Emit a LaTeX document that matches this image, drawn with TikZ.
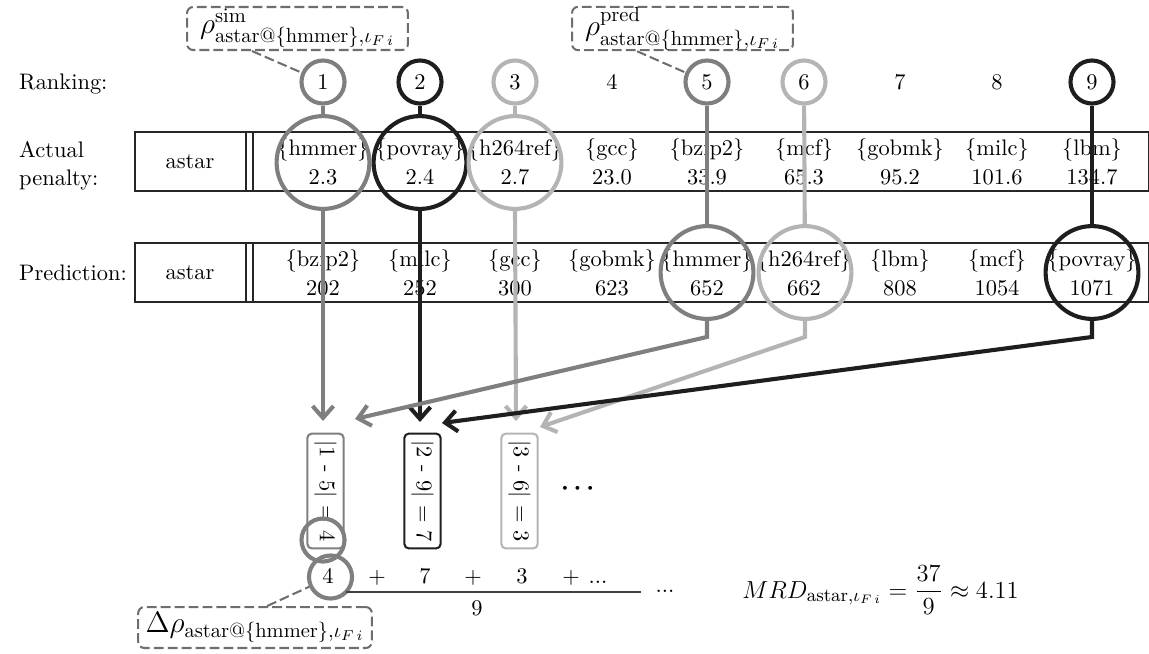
\documentclass[tikz,border=0pt]{standalone}
\usepackage{amsmath}
\usetikzlibrary{arrows.meta,calc}
\definecolor{midg}{HTML}{7F7F7F}
\definecolor{darkg}{HTML}{1E1E1E}
\definecolor{lightg}{HTML}{B4B4B4}
\definecolor{dashg}{HTML}{6E6E6E}
\begin{document}
\begin{tikzpicture}[x=0.488pt,y=-0.488pt,
  every node/.append style={font=\fontsize{10.95}{13.6}\selectfont},
  rank/.style={circle,minimum size=21pt,inner sep=0pt,line width=2pt},
  big/.style={circle,minimum size=45.3pt,inner sep=0pt,line width=2pt,draw=#1},
  txt/.style={anchor=base,inner sep=0pt},
  tbl/.style={line width=0.5pt,draw=black!85},
  link/.style={line width=2pt,draw=#1},
  arr/.style={line width=2pt,draw=#1,-{Straight Barb[length=5.8pt,width=10.2pt]}},
  diffbox/.style={draw=#1,rounded corners=2pt,line width=1pt,rotate=-90},
  callout/.style={draw=dashg,line width=1pt,dash pattern=on 4.8pt off 2pt,
    rounded corners=3pt,inner sep=0pt,font=\Large},
  leader/.style={draw=dashg,line width=1pt,dash pattern=on 4.8pt off 2pt},
  ring/.style={circle,minimum size=21pt,inner sep=0pt,line width=2pt,draw=midg}
]
\useasboundingbox (0,0) rectangle (1149,653);

% row labels
\node[anchor=west] (lrank) at (12,84) {Ranking:};
\node[anchor=west,align=left] (lact) at (12,166) {Actual\\penalty:};
\node[anchor=west] (lpred) at (12,273) {Prediction:};

% tables
\draw[tbl] (135,132) rectangle (1148,191);
\draw[tbl] (246,132) -- (246,191) (253,132) -- (253,191);
\draw[tbl] (135,243) rectangle (1148,302);
\draw[tbl] (246,243) -- (246,302) (253,243) -- (253,302);
\node (t1) at (190,162) {astar};
\node (t2) at (190,273) {astar};

\foreach \x/\n/\v [count=\k] in {323/hmmer/2.3,420/povray/2.4,515/h264ref/2.7,
    612/gcc/23.0,707/bzip2/33.9,804/mcf/65.3,900/gobmk/95.2,997/milc/101.6,1092/lbm/134.7}{
  \node[txt] (an\k) at (\x,155) {\{\n\}};
  \node[txt] (av\k) at (\x,184) {\v};
}
\foreach \x/\n/\v [count=\k] in {323/bzip2/202,420/milc/252,515/gcc/300,
    612/gobmk/623,707/hmmer/652,804/h264ref/662,900/lbm/808,997/mcf/1054,1092/povray/1071}{
  \node[txt] (pn\k) at (\x,266) {\{\n\}};
  \node[txt] (pv\k) at (\x,295) {\v};
}

% ranking
\foreach \i/\x/\c in {1/323/midg,2/420/darkg,3/515/lightg,4/612/none,5/707/midg,
    6/804/lightg,7/900/none,8/997/none,9/1092/darkg}{
  \node[rank,draw=\c] (r\i) at (\x,82) {\i};
}

% highlighted cells
\node[big=midg]   (b1) at (323,162.5) {};
\node[big=darkg]  (b2) at (420,162.5) {};
\node[big=lightg] (b3) at (515,162.5) {};
\node[big=midg]   (p5) at (707,272.5) {};
\node[big=lightg] (p6) at (805,272.5) {};
\node[big=darkg]  (p9) at (1092,272.5) {};

% rank differences
\node[diffbox=midg]   (d1) at (325.5,491) {$|$1 - 5$|$ $=$ 4};
\node[diffbox=darkg]  (d2) at (422.5,491) {$|$2 - 9$|$ $=$ 7};
\node[diffbox=lightg] (d3) at (519.5,491) {$|$3 - 6$|$ $=$ 3};
\node[font=\large\boldmath] (dd) at (580,489) {$\cdots$};

% stems
\draw[link=midg]   (r1) -- (b1);
\draw[link=darkg]  (r2) -- (b2);
\draw[link=lightg] (r3) -- (b3);
\draw[link=midg]   (r5) -- (p5);
\draw[link=lightg] (r6) -- (p6);
\draw[link=darkg]  (r9) -- (p9);

% arrows to the differences
\draw[arr=midg]   (b1.south) -- ($(d1)+(-2.5,-70)$);
\draw[arr=darkg]  (b2.south) -- ($(d2)+(-2.5,-69)$);
\draw[arr=lightg] (b3.south) -- ($(d3)+(-3.5,-70)$);
\draw[arr=midg]   (p5.south) -- ++(0,16) -- ($(d1)+(29.5,-72)$);
\draw[arr=lightg] (p6.south) -- ++(0,16) -- ($(d3)+(20.5,-64)$);
\draw[arr=darkg]  (p9.south) -- ++(0,16) -- ($(d2)+(19.5,-68)$);

% sum
\node[ring] (c4a) at (323,540) {};
\node[txt] (s1) at (328,583) {4};
\node[ring] (c4b) at (330.5,577) {};
\node[txt] (s2) at (377,583) {$+$};
\node[txt] (s3) at (425,583) {7};
\node[txt] (s4) at (473,583) {$+$};
\node[txt] (s5) at (522,583) {3};
\node[txt] (s6) at (571,583) {$+$};
\node[txt] (s7) at (598,583) {...};
\coordinate (fl) at (346,592);
\coordinate (fr) at (641,592);
\draw[line width=0.65pt,draw=black!75] (fl) -- (fr);
\node[txt] (s9) at (477,615) {9};
\node[txt] (s10) at (665,592) {...};

% result
\node[anchor=base west,inner sep=0pt,font=\fontsize{12.9}{15.5}\selectfont] (mrd) at (742,598)
  {$MRD_{\text{astar},\iota_{F\,i}} = \dfrac{37}{9} \approx 4.11$};

% callouts
\node[callout,minimum width=107.8pt,minimum height=21pt] (sim) at (297.5,28.5)
  {$\rho^{\mathrm{sim}}_{\text{astar@\{hmmer\}},\iota_{F\,i}}$};
\node[callout,minimum width=107.8pt,minimum height=21pt] (pred) at (682.5,28.5)
  {$\rho^{\mathrm{pred}}_{\text{astar@\{hmmer\}},\iota_{F\,i}}$};
\node[callout,minimum width=114pt,minimum height=20pt] (delta) at (255,627.5)
  {$\Delta\rho_{\text{astar@\{hmmer\}},\iota_{F\,i}}$};
\draw[leader] ($(sim.south west)+(66,0)$) -- (r1);
\draw[leader] ($(pred.south west)+(66,0)$) -- (r5);
\draw[leader] ($(delta.north west)+(130,0)$) -- (c4b);
\end{tikzpicture}
\end{document}
